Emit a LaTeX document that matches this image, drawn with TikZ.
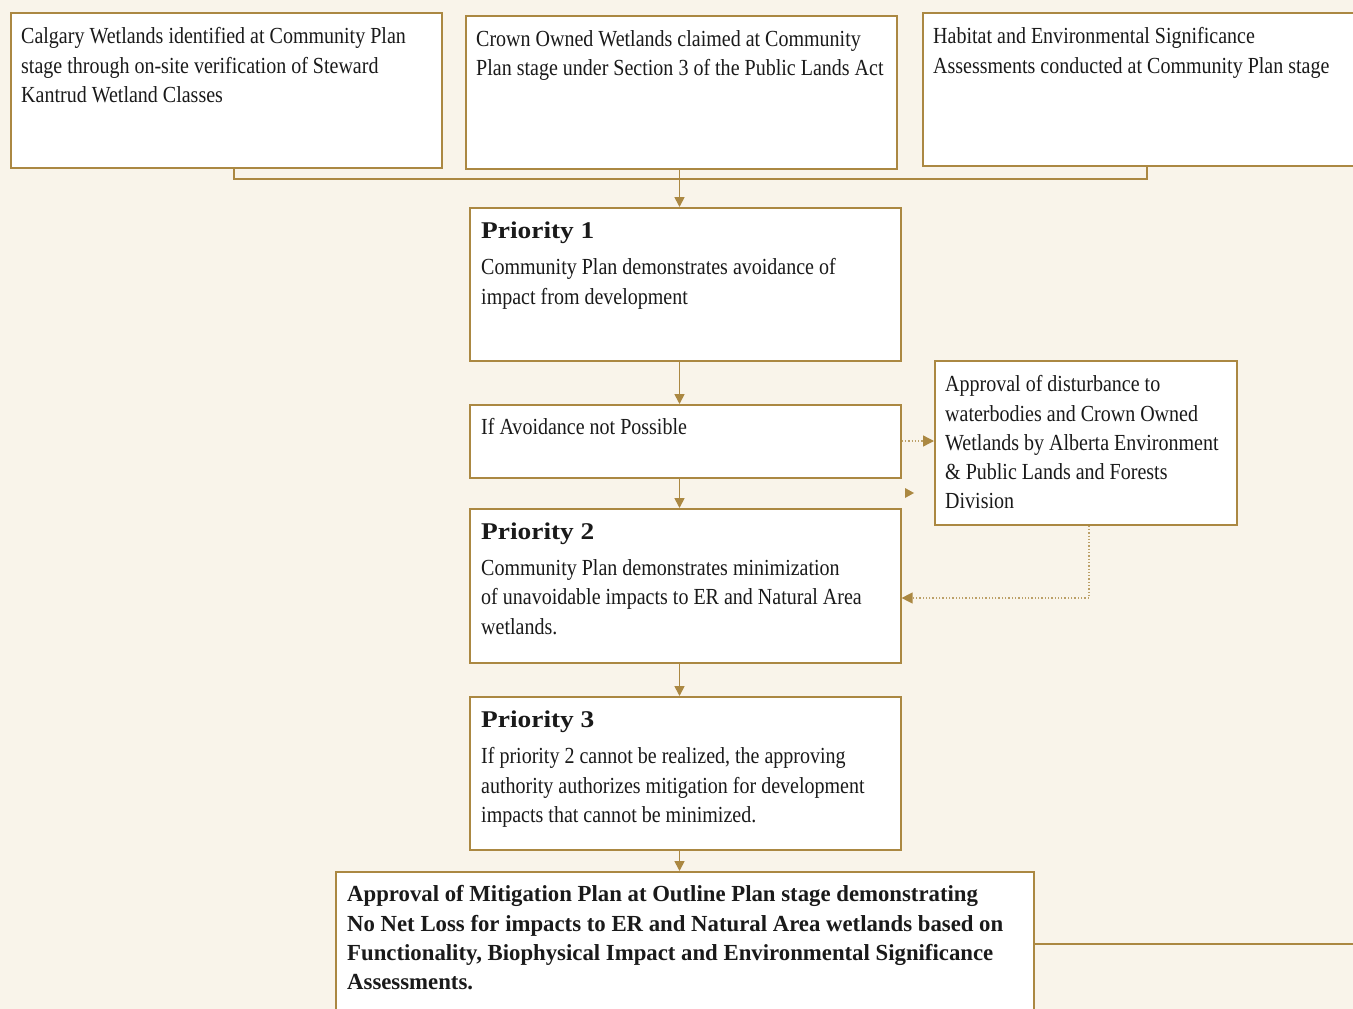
\documentclass[tikz,border=0pt]{standalone}
\usepackage{fontspec}
\usetikzlibrary{arrows.meta}
\setmainfont{Liberation Serif}
\newfontfamily\bodyfont[FakeStretch=0.87]{Liberation Serif}
\newfontfamily\boldbody[FakeStretch=0.99]{Liberation Serif}
\newfontfamily\headfont[FakeStretch=1.14]{Liberation Serif}
\definecolor{bg}{HTML}{F9F4EA}
\definecolor{gold}{HTML}{AB8842}
\definecolor{ink}{HTML}{1A1A1A}
\begin{document}
\begin{tikzpicture}[x=1pt,y=-1pt,
  box/.style={draw=gold, fill=white, line width=1.6pt, rectangle, inner sep=0pt, anchor=north west},
  txt/.style={anchor=north west, inner sep=0pt, align=left, text=ink, font=\bodyfont\fontsize{23}{29.2}\selectfont},
  head/.style={anchor=north west, inner sep=0pt, text=ink, font=\headfont\bfseries\fontsize{24}{29}\selectfont},
  btxt/.style={anchor=north west, inner sep=0pt, align=left, text=ink, font=\boldbody\bfseries\fontsize{23}{29.3}\selectfont},
  conn/.style={draw=gold, line width=1.7pt},
  arr/.style={conn, -{Triangle[length=10pt,width=10pt]}},
  dots/.style={draw=gold!80, line width=1.3pt, dotted},
  darr/.style={dots, -{Triangle[length=11pt,width=11pt,color=gold,fill=gold]}}
]
\fill[bg] (0,0) rectangle (1353,1009);
\useasboundingbox (0,0) rectangle (1353,1009);

% top boxes
\node[box, minimum width=431pt, minimum height=155pt] (A) at (10,12) {};
\node[box, minimum width=431pt, minimum height=153pt] (B) at (465,15) {};
\node[box, minimum width=440pt, minimum height=153pt] (C) at (922,12) {};
\node[txt] (At) at (21,27.5) {Calgary Wetlands identified at Community Plan\\stage through on-site verification of Steward\\Kantrud Wetland Classes};
\node[txt] (Bt) at (476,30.5) {Crown Owned Wetlands claimed at Community\\Plan stage under Section 3 of the Public Lands Act};
\node[txt] (Ct) at (933,27.5) {Habitat and Environmental Significance\\Assessments conducted at Community Plan stage};

% priority 1
\node[box, minimum width=431pt, minimum height=153pt] (P1) at (469,207) {};
\node[head] (P1h) at (481,221.5) {Priority 1};
\node[txt] (P1t) at (481,258.5) {Community Plan demonstrates avoidance of\\impact from development};

% if avoidance
\node[box, minimum width=431pt, minimum height=73pt] (IA) at (469,404) {};
\node[txt] (IAt) at (481,418.5) {If Avoidance not Possible};

% approval side box
\node[box, minimum width=302pt, minimum height=164pt] (AP) at (934,360) {};
\node[txt] (APt) at (945,375.5) {Approval of disturbance to\\waterbodies and Crown Owned\\Wetlands by Alberta Environment\\\&\ Public Lands and Forests\\Division};

% priority 2
\node[box, minimum width=431pt, minimum height=154pt] (P2) at (469,508) {};
\node[head] (P2h) at (481,522.5) {Priority 2};
\node[txt] (P2t) at (481,559.5) {Community Plan demonstrates minimization\\of unavoidable impacts to ER and Natural Area\\wetlands.};

% priority 3
\node[box, minimum width=431pt, minimum height=153pt] (P3) at (469,696) {};
\node[head] (P3h) at (481,710.5) {Priority 3};
\node[txt] (P3t) at (481,747.5) {If priority 2 cannot be realized, the approving\\authority authorizes mitigation for development\\impacts that cannot be minimized.};

% bottom box
\node[box, minimum width=698pt, minimum height=150pt] (M) at (335,871) {};
\node[btxt] (Mt) at (347,885.5) {Approval of Mitigation Plan at Outline Plan stage demonstrating\\No Net Loss for impacts to ER and Natural Area wetlands based on\\Functionality, Biophysical Impact and Environmental Significance\\Assessments.};

% connectors
\coordinate (jA) at (234,179);
\coordinate (jC) at (1147,179);
\draw[conn] (A.south -| jA) -- (jA) -- (jC) -- (C.south -| jC);
\draw[arr] (B.south -| 679.5,0) -- (P1.north -| 679.5,0);
\draw[arr] (P1.south -| 679.5,0) -- (IA.north -| 679.5,0);
\draw[arr] (IA.south -| 679.5,0) -- (P2.north -| 679.5,0);
\draw[arr] (P2.south -| 679.5,0) -- (P3.north -| 679.5,0);
\draw[arr] (P3.south -| 679.5,0) -- (M.north -| 679.5,0);
\coordinate (rE) at (1353,944);
\draw[conn] (M.east |- rE) -- (rE);

% dotted connectors
\draw[darr] (IA.east |- 0,441) -- (AP.west |- 0,441);
\coordinate (dC) at (1089,598);
\draw[darr] (AP.south -| dC) -- (dC) -- (P2.east |- dC);
\coordinate (tip) at (914,493);
\fill[gold] (tip) -- ++(-9,-5) -- ++(0,10) -- cycle;
\end{tikzpicture}
\end{document}
